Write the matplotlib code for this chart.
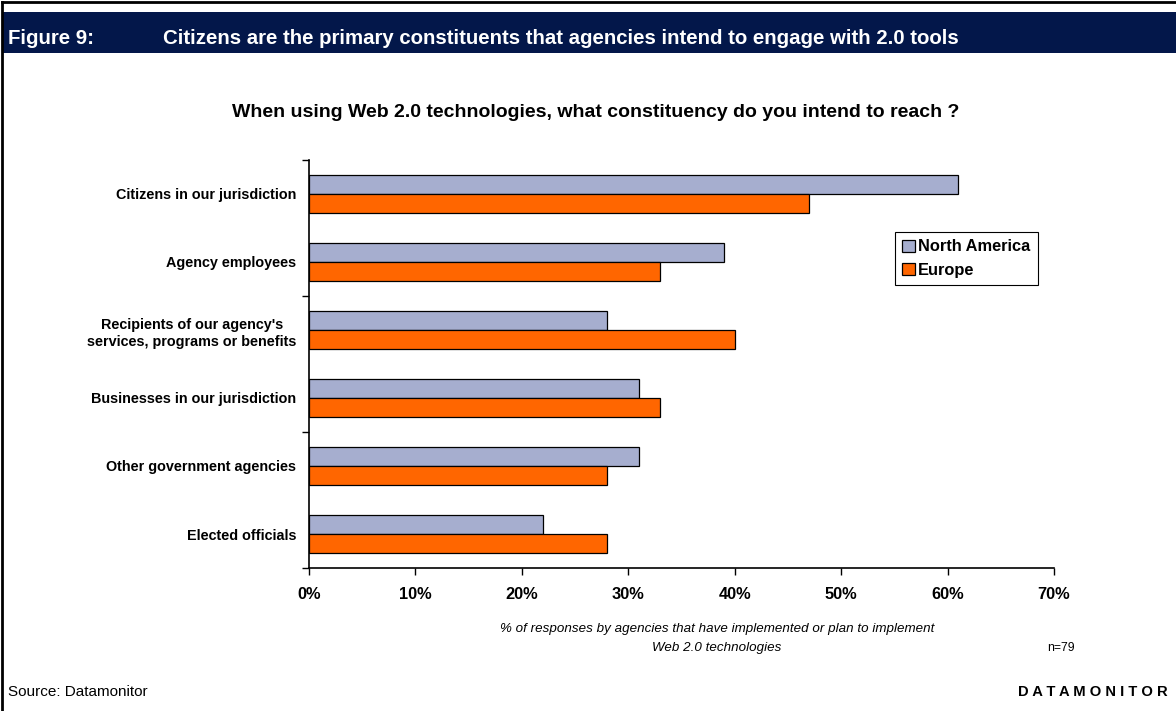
import numpy as np
import matplotlib
matplotlib.use("Agg")
import matplotlib.pyplot as plt
from matplotlib.patches import Rectangle
from matplotlib.lines import Line2D

plt.rcParams['font.family'] = ['Liberation Sans', 'DejaVu Sans']

categories = [
    "Citizens in our jurisdiction",
    "Agency employees",
    "Recipients of our agency's\nservices, programs or benefits",
    "Businesses in our jurisdiction",
    "Other government agencies",
    "Elected officials",
]
north_america = [61, 39, 28, 31, 31, 22]
europe = [47, 33, 40, 33, 28, 28]
series_names = ["North America", "Europe"]
x_ticks = [0, 10, 20, 30, 40, 50, 60, 70]

W, H = 1176, 711
fig = plt.figure(figsize=(W / 100, H / 100), dpi=100)


def fx(px):
    return px / W


def fy(py):
    return 1 - py / H


# page frame and header band
fig.add_artist(Line2D([fx(2), fx(2)], [fy(2), fy(711)], color='black', lw=2))
fig.add_artist(Line2D([fx(2), fx(1176)], [fy(2), fy(2)], color='black', lw=2))
fig.add_artist(Rectangle((fx(3), fy(53)), fx(1173), (53 - 12) / H,
                         facecolor='#03174A', edgecolor='none'))
fig.text(fx(8), fy(43.5), "Figure 9:", color='white', fontsize=14.7,
         fontweight='bold', va='baseline', ha='left')
fig.text(fx(163), fy(43.5),
         "Citizens are the primary constituents that agencies intend to engage with 2.0 tools",
         color='white', fontsize=14.7, fontweight='bold', va='baseline', ha='left')

fig.text(fx(596), fy(117),
         "When using Web 2.0 technologies, what constituency do you intend to reach ?",
         fontsize=14, fontweight='bold', ha='center', va='baseline')

ax = fig.add_axes([fx(309), fy(568), (1054 - 309) / W, (568 - 160) / H])

y = np.arange(len(categories))
bh = 0.28
ax.barh(y - bh / 2, north_america, height=bh, color='#A6AECF',
        edgecolor='black', linewidth=0.9, label=series_names[0])
ax.barh(y + bh / 2, europe, height=bh, color='#FF6600',
        edgecolor='black', linewidth=0.9, label=series_names[1])

ax.set_xlim(0, 70)
ax.set_ylim(len(categories) - 0.5, -0.5)
ax.set_xticks(x_ticks)
ax.set_xticklabels([f"{t}%" for t in x_ticks], fontsize=11.8, fontweight='bold')
ax.tick_params(axis='x', direction='out', length=5, width=1, pad=9)

# tick marks every second category boundary, labels at category centres
ax.set_yticks([-0.5, 1.5, 3.5, 5.5])
ax.set_yticklabels([])
ax.tick_params(axis='y', which='major', direction='out', length=5, width=1)
ax.set_yticks(y, minor=True)
ax.set_yticklabels(categories, minor=True, fontsize=10.4, fontweight='bold',
                   ha='right', multialignment='center', linespacing=1.35)
ax.tick_params(axis='y', which='minor', length=0, pad=9)

for side in ['top', 'right']:
    ax.spines[side].set_visible(False)
for side in ['left', 'bottom']:
    ax.spines[side].set_linewidth(1.2)

leg = ax.legend(loc='upper left', bbox_to_anchor=(fx(895), fy(232)),
                bbox_transform=fig.transFigure, fancybox=False,
                edgecolor='black', framealpha=1, fontsize=11.8,
                handlelength=0.75, handleheight=0.75, handletextpad=0.2,
                borderpad=0.45, labelspacing=0.5, borderaxespad=0)
leg.get_frame().set_linewidth(0.8)
for t in leg.get_texts():
    t.set_fontweight('bold')

fig.text(fx(717), fy(629),
         "% of responses by agencies that have implemented or plan to implement",
         fontsize=9.6, style='italic', ha='center', va='center')
fig.text(fx(717), fy(648), "Web 2.0 technologies",
         fontsize=9.6, style='italic', ha='center', va='center')
fig.text(fx(1061), fy(648), "n=79", fontsize=8.8, ha='center', va='center')

fig.text(fx(8), fy(692), "Source: Datamonitor", fontsize=11,
         ha='left', va='center')
fig.text(fx(1168), fy(692), " ".join("DATAMONITOR"), fontsize=10.6,
         fontweight='bold', ha='right', va='center')

fig.savefig("out.png", dpi=100)
